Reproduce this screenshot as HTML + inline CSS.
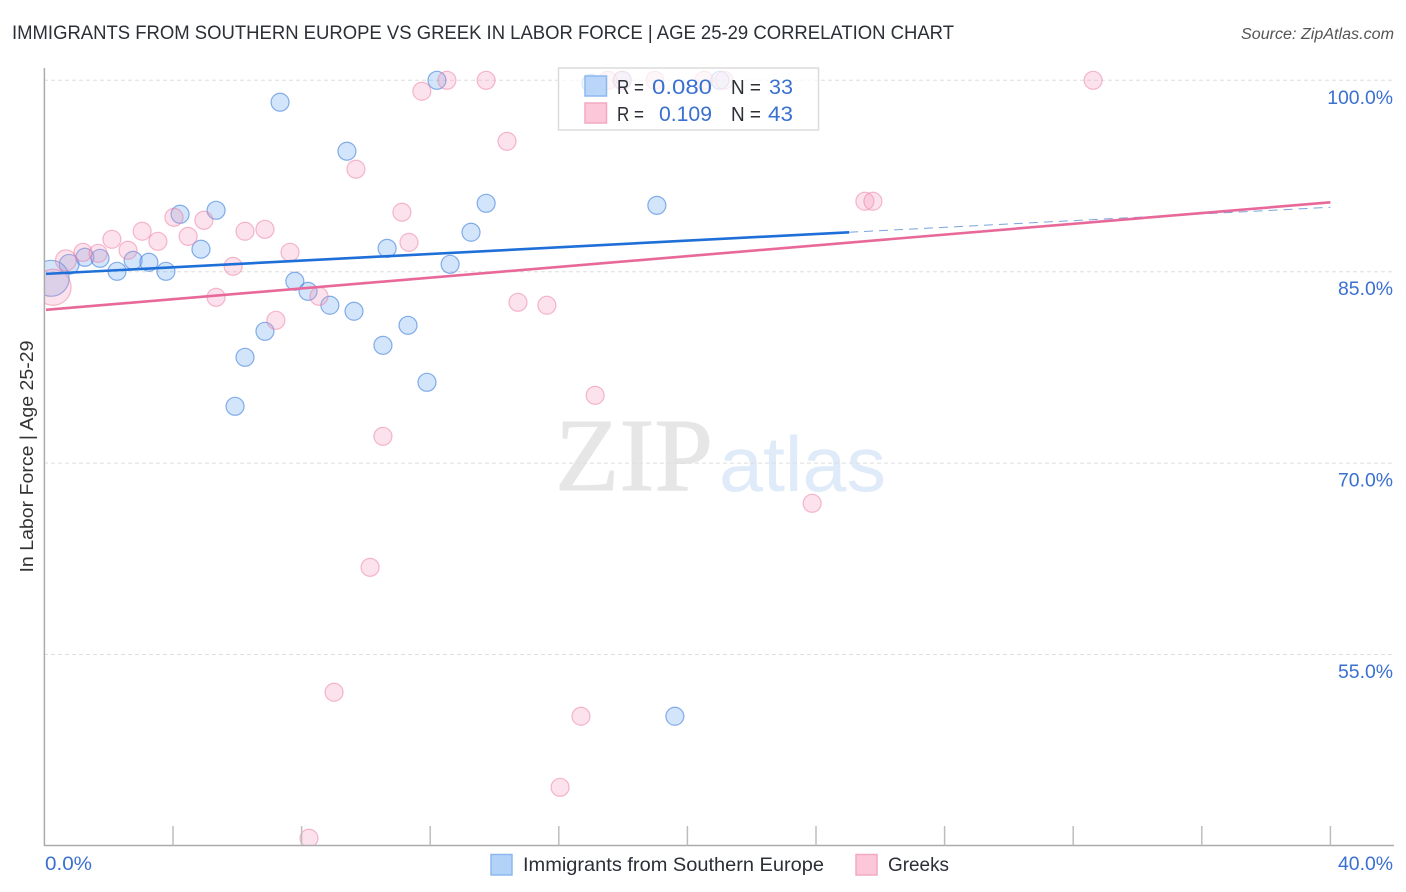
<!DOCTYPE html>
<html lang="en">
<head>
<meta charset="utf-8">
<title>Immigrants from Southern Europe vs Greek in Labor Force | Age 25-29 Correlation Chart</title>
<style>
html,body{margin:0;padding:0;background:#fff;}
body{width:1406px;height:892px;overflow:hidden;}
svg{display:block;font-family:"Liberation Sans",sans-serif;}
</style>
</head>
<body>
<svg id="chart" xmlns="http://www.w3.org/2000/svg" width="1406" height="892" viewBox="0 0 1406 892">
  <defs>
    <clipPath id="plot-clip"><rect x="45" y="68" width="1349" height="777"/></clipPath>
  </defs>
  <text x="12" y="39" font-size="19.5" fill="#2b2f36" textLength="942" lengthAdjust="spacingAndGlyphs">IMMIGRANTS FROM SOUTHERN EUROPE VS GREEK IN LABOR FORCE | AGE 25-29 CORRELATION CHART</text>
  <text x="1394" y="39" font-size="15.5" font-style="italic" fill="#555" text-anchor="end" textLength="153" lengthAdjust="spacingAndGlyphs">Source: ZipAtlas.com</text>
  <text x="555" y="490" font-family="'Liberation Serif',serif" font-size="104" fill="#e6e6e6" stroke="#e6e6e6" stroke-width="1" textLength="158" lengthAdjust="spacingAndGlyphs">ZIP</text>
  <text x="719" y="491" font-size="78" fill="#e0ebfa" textLength="167" lengthAdjust="spacingAndGlyphs">atlas</text>
  <g id="grid"></g>
  <g id="blue-points" clip-path="url(#plot-clip)"></g>
  <g id="pink-points" clip-path="url(#plot-clip)"></g>
  <g id="trends"></g>
  <g id="axes"></g>
  <text transform="translate(33,456.5) rotate(-90)" font-size="18.5" fill="#333" text-anchor="middle" textLength="232" lengthAdjust="spacingAndGlyphs">In Labor Force | Age 25-29</text>

  <g>
    <rect x="558.5" y="68" width="260" height="62" fill="#fff" fill-opacity="0.72" stroke="#dcdcdc" stroke-width="1.5"/>
    <rect x="585" y="76" width="21.5" height="20" fill="#b3d2f8" fill-opacity="0.9" stroke="#8db8ef" stroke-width="1.5"/>
    <rect x="585" y="103" width="21.5" height="20" fill="#fcc7d8" stroke="#f4a9c2" stroke-width="1.5"/>
    <g font-size="20.5" fill="#2b2f36">
      <text x="617" y="94" textLength="27" lengthAdjust="spacingAndGlyphs">R =</text>
      <text x="731" y="94" textLength="30" lengthAdjust="spacingAndGlyphs">N =</text>
      <text x="617" y="121" textLength="27" lengthAdjust="spacingAndGlyphs">R =</text>
      <text x="731" y="121" textLength="30" lengthAdjust="spacingAndGlyphs">N =</text>
    </g>
    <g font-size="21.5" fill="#3a70d0">
      <text x="652" y="94" textLength="60" lengthAdjust="spacingAndGlyphs">0.080</text>
      <text x="769" y="94" textLength="24" lengthAdjust="spacingAndGlyphs">33</text>
      <text x="659" y="121" textLength="53" lengthAdjust="spacingAndGlyphs">0.109</text>
      <text x="768" y="121" textLength="25" lengthAdjust="spacingAndGlyphs">43</text>
    </g>
  </g>

  <g>
    <rect x="491" y="854.5" width="21" height="20.5" fill="#b3d2f8" stroke="#8db8ef" stroke-width="1.5"/>
    <text x="523" y="871" font-size="19.5" fill="#2b2f36" textLength="301" lengthAdjust="spacingAndGlyphs">Immigrants from Southern Europe</text>
    <rect x="856" y="854.5" width="21" height="20.5" fill="#fcc7d8" stroke="#f4a9c2" stroke-width="1.5"/>
    <text x="888" y="871" font-size="19.5" fill="#2b2f36" textLength="61" lengthAdjust="spacingAndGlyphs">Greeks</text>
  </g>
</svg>
<script>
// X tick values and y gridline values
const xTicks = [0, 4, 8, 12, 16, 20, 24, 28, 32, 36, 40];
const yTicks = [100, 85, 70, 55];
const xTickLabels = ["0.0%", "40.0%"];
const yTickLabels = ["100.0%", "85.0%", "70.0%", "55.0%"];

// Immigrants from Southern Europe
const blueX = [12.21, 7.33, 9.41, 5.34, 4.22, 13.74, 19.05, 13.27, 4.87, 10.66, 12.62, 0.77, 1.26, 1.73, 2.26, 2.76, 3.25, 3.78, 0.21, 7.79, 8.20, 8.88, 9.63, 11.31, 6.86, 10.53, 6.24, 11.90, 5.93, 19.61, 17.00, 17.97, 21.01];
const blueY = [100, 98.28, 94.44, 89.81, 89.50, 90.36, 90.20, 88.09, 86.76, 86.83, 85.58, 85.58, 86.13, 86.05, 85.03, 85.89, 85.74, 85.03, 84.48, 84.25, 83.46, 82.37, 81.90, 80.80, 80.33, 79.23, 78.29, 76.33, 74.45, 50.16, 99.76, 100, 100];
const blueWeight = [1, 1, 1, 1, 1, 1, 1, 1, 1, 1, 1, 1.2, 1, 1, 1, 1, 1, 1, 4, 1, 1, 1, 1, 1, 1, 1, 1, 1, 1, 1, 1, 1, 1];

// Greeks
const pinkX = [12.52, 13.74, 32.62, 11.74, 14.39, 9.69, 11.12, 25.52, 25.77, 4.03, 4.96, 4.47, 6.24, 6.86, 3.04, 2.10, 3.53, 2.60, 1.20, 1.67, 0.67, 7.64, 11.34, 5.87, 5.34, 8.54, 14.73, 15.63, 7.20, 17.13, 10.53, 23.88, 10.13, 9.01, 16.69, 16.04, 8.23, 0.27, 17.53, 18.99, 17.97, 20.52, 21.14];
const pinkY = [100, 100, 100, 99.14, 95.22, 93.03, 89.66, 90.52, 90.52, 89.26, 89.03, 87.77, 88.17, 88.32, 88.17, 87.54, 87.38, 86.68, 86.52, 86.44, 85.89, 86.52, 87.30, 85.42, 82.99, 83.07, 82.60, 82.37, 81.19, 75.31, 72.10, 66.85, 61.83, 52.04, 50.16, 44.59, 40.60, 83.78, 100, 100, 100, 100, 100];
const pinkWeight = [1, 1, 1, 1, 1, 1, 1, 1, 1, 1, 1, 1, 1, 1, 1, 1, 1, 1, 1, 1, 1.35, 1, 1, 1, 1, 1, 1, 1, 1, 1, 1, 1, 1, 1, 1, 1, 1, 4, 1, 1, 1, 1, 1];

// Trend lines: start of fit, end of observed fit, end of projection
const blueTrendX = [0.05, 25.03, 40];
const blueTrendY = [84.83, 88.09, 90.05];
const pinkTrendX = [0.05, 40];
const pinkTrendY = [82.01, 90.44];

const NS = "http://www.w3.org/2000/svg";
const sx = v => 44.4 + v * 32.15;
const sy = v => 80.3 + (100 - v) * 12.76;
const radius = w => 9 * Math.sqrt(w);

function make(parentId, tag, attrs, text) {
  const el = document.createElementNS(NS, tag);
  for (const k in attrs) el.setAttribute(k, attrs[k]);
  if (text !== undefined) el.textContent = text;
  document.getElementById(parentId).appendChild(el);
  return el;
}

yTicks.forEach((t, i) => {
  const line = make("grid", "line", {x1: 44, x2: 1393, y1: sy(t), y2: sy(t), stroke: "#dedede", "stroke-width": 1, "stroke-dasharray": "4 3"});
  
  
  const label = make("axes", "text", {x: 1393, y: sy(t) + 23.5, "font-size": 19.4, fill: "#3a70d0", "text-anchor": "end"}, yTickLabels[i]);
  
  
});

blueX.forEach((x, i) => {
  const c = make("blue-points", "circle", {cx: sx(x), cy: sy(blueY[i]), r: radius(blueWeight[i]), fill: "rgba(122,175,240,0.33)", stroke: "rgba(60,125,220,0.6)", "stroke-width": 1.2});
  
  
});
pinkX.forEach((x, i) => {
  const c = make("pink-points", "circle", {cx: sx(x), cy: sy(pinkY[i]), r: radius(pinkWeight[i]), fill: "rgba(245,150,185,0.28)", stroke: "rgba(235,120,160,0.5)", "stroke-width": 1.2});
  
  
});

const blueDash = make("trends", "line", {x1: sx(blueTrendX[1]), y1: sy(blueTrendY[1]), x2: sx(blueTrendX[2]), y2: sy(blueTrendY[2]), stroke: "#7ba4dc", "stroke-width": 1, "stroke-dasharray": "9 6"});


const blueSolid = make("trends", "line", {x1: sx(blueTrendX[0]), y1: sy(blueTrendY[0]), x2: sx(blueTrendX[1]), y2: sy(blueTrendY[1]), stroke: "#1f6fd8", "stroke-width": 2.6});


const pinkSolid = make("trends", "line", {x1: sx(pinkTrendX[0]), y1: sy(pinkTrendY[0]), x2: sx(pinkTrendX[1]), y2: sy(pinkTrendY[1]), stroke: "#e8689a", "stroke-width": 2.6});



const yAxis = make("axes", "line", {x1: 44.4, x2: 44.4, y1: 68, y2: 846, stroke: "#ababab", "stroke-width": 1.5});


const xAxis = make("axes", "line", {x1: 44, x2: 1394, y1: 845.5, y2: 845.5, stroke: "#ababab", "stroke-width": 1.5});


xTicks.slice(1).forEach(t => {
  const tick = make("axes", "line", {x1: sx(t), x2: sx(t), y1: 826, y2: 845.5, stroke: "#bdbdbd", "stroke-width": 1.5});
  
  
});
const xLabelLeft = make("axes", "text", {x: 45, y: 870, "font-size": 19.4, fill: "#3a70d0", textLength: 47, lengthAdjust: "spacingAndGlyphs"}, xTickLabels[0]);


const xLabelRight = make("axes", "text", {x: 1393, y: 870, "font-size": 19.4, fill: "#3a70d0", "text-anchor": "end"}, xTickLabels[1]);


</script>
</body>
</html>
